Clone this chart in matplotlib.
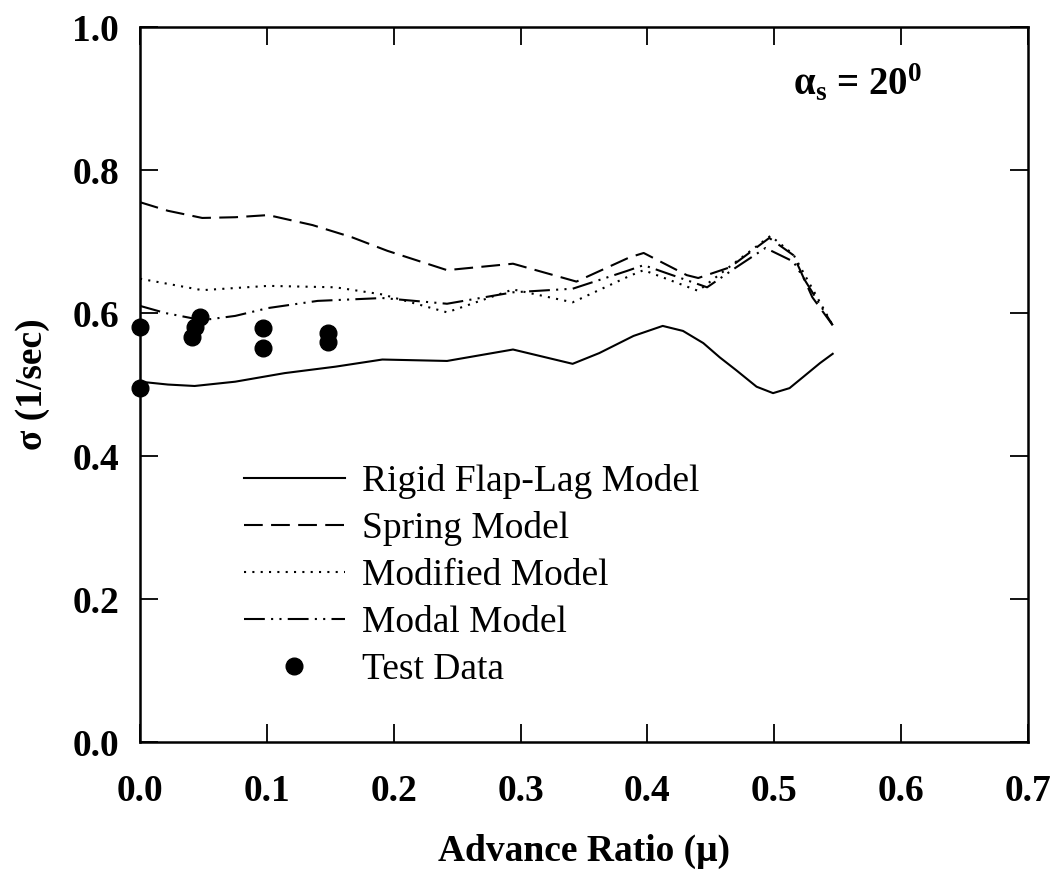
import numpy as np
import matplotlib
matplotlib.use("Agg")
import matplotlib.pyplot as plt

plt.rcParams["font.family"] = ["Liberation Serif", "DejaVu Serif"]
plt.rcParams["mathtext.fontset"] = "custom"
plt.rcParams["mathtext.rm"] = "Liberation Serif"
plt.rcParams["mathtext.it"] = "Liberation Serif:italic"
plt.rcParams["mathtext.bf"] = "Liberation Serif:bold"

# values (advance ratio mu, sigma 1/sec)
rigid_mu = [0.0, 0.022, 0.043, 0.075, 0.114, 0.154, 0.191, 0.242, 0.294, 0.341,
            0.362, 0.389, 0.412, 0.428, 0.444, 0.457, 0.470, 0.486, 0.499, 0.512,
            0.523, 0.536, 0.546]
rigid_sig = [0.504, 0.500, 0.498, 0.504, 0.516, 0.525, 0.535, 0.533, 0.549, 0.529,
             0.544, 0.568, 0.582, 0.575, 0.558, 0.538, 0.520, 0.497, 0.488, 0.495,
             0.511, 0.530, 0.543]

spring_mu = [0.0, 0.022, 0.049, 0.075, 0.101, 0.136, 0.167, 0.195, 0.242, 0.294,
             0.344, 0.386, 0.397, 0.431, 0.44, 0.465, 0.496, 0.515, 0.53, 0.546]
spring_sig = [0.755, 0.743, 0.733, 0.734, 0.737, 0.723, 0.706, 0.687, 0.660, 0.669,
              0.644, 0.678, 0.684, 0.653, 0.649, 0.664, 0.705, 0.681, 0.622, 0.583]

modified_mu = [0.0, 0.049, 0.101, 0.154, 0.191, 0.242, 0.294, 0.341, 0.386, 0.397,
               0.44, 0.470, 0.497, 0.515, 0.546]
modified_sig = [0.648, 0.632, 0.638, 0.636, 0.626, 0.601, 0.633, 0.615, 0.652, 0.660,
                0.631, 0.672, 0.708, 0.682, 0.583]

modal_mu = [0.0, 0.02, 0.049, 0.075, 0.101, 0.140, 0.191, 0.242, 0.294, 0.341,
            0.384, 0.397, 0.447, 0.470, 0.493, 0.515, 0.546]
modal_sig = [0.610, 0.600, 0.590, 0.596, 0.607, 0.617, 0.621, 0.613, 0.629, 0.634,
             0.659, 0.667, 0.636, 0.664, 0.691, 0.672, 0.583]

test_mu = [0.0, 0.0, 0.047, 0.043, 0.041, 0.097, 0.097, 0.148, 0.148]
test_sig = [0.580, 0.495, 0.594, 0.580, 0.566, 0.579, 0.551, 0.572, 0.559]

fig = plt.figure(figsize=(10.57, 8.72), dpi=100)
ax = fig.add_axes([0.1325, 0.149, 0.8401, 0.820])

lw = 1.5
kw = dict(color="black", lw=lw, solid_joinstyle="round", dash_joinstyle="round")
ax.plot(rigid_mu, rigid_sig, label="Rigid Flap-Lag Model", **kw)
ax.plot(spring_mu, spring_sig, dashes=(9, 4), label="Spring Model", **kw)
ax.plot(modified_mu, modified_sig, dashes=(1, 3), label="Modified Model", **kw)
ax.plot(modal_mu, modal_sig, dashes=(10, 3, 1, 3, 1, 3), label="Modal Model", **kw)
ax.plot(test_mu, test_sig, "o", color="black", ms=12, clip_on=False, label="Test Data")

ax.set_xlim(0, 0.7)
ax.set_ylim(0, 1.0)
xt = np.arange(0, 0.71, 0.1)
yt = np.arange(0, 1.01, 0.2)
ax.set_xticks(xt)
ax.set_yticks(yt)
ax.set_xticklabels([f"{v:.1f}" for v in xt])
ax.set_yticklabels([f"{v:.1f}" for v in yt])
ax.tick_params(direction="in", length=13, width=1.3, top=True, right=True,
               labelsize=27)
ax.tick_params(axis="x", pad=23)
ax.tick_params(axis="y", pad=15)
for lab in ax.get_xticklabels() + ax.get_yticklabels():
    lab.set_fontweight("bold")
for s in ax.spines.values():
    s.set_linewidth(1.8)

ax.set_xlabel("Advance Ratio (\u03bc)", fontsize=27, fontweight="bold", labelpad=18)
ax.set_ylabel("\u03c3 (1/sec)", fontsize=27, fontweight="bold", labelpad=16)

# upright alpha, bold subscript / superscript
ax.text(0.735, 0.905, "\u03b1$_{\\mathbf{s}}$ = 20$^{\\mathbf{0}}$", transform=ax.transAxes,
        fontsize=28, fontweight="bold", va="baseline")

ax.legend(loc="upper left", bbox_to_anchor=(0.1, 0.41), frameon=False, fontsize=27,
          handlelength=2.7, handletextpad=0.45, labelspacing=0.33, numpoints=1,
          borderaxespad=0)

fig.savefig("out.png", dpi=100)
